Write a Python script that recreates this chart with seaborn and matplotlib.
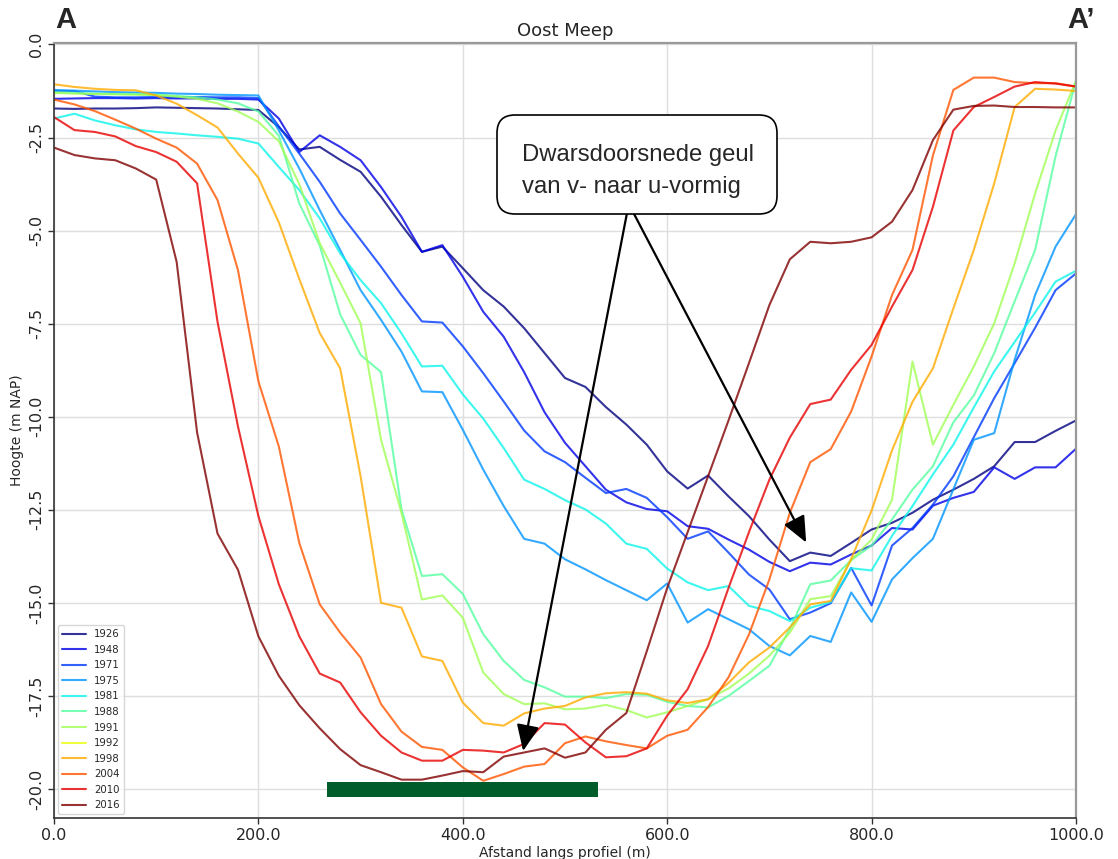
import numpy as np
import pandas as pd
import matplotlib
matplotlib.use("Agg")
import matplotlib.pyplot as plt
import seaborn as sns
from matplotlib.patches import FancyBboxPatch, Rectangle
from matplotlib.transforms import IdentityTransform

# Afstand langs het profiel (m), elke 20 m gemeten
afstand = np.arange(0, 1001, 20)

jaren = ["1926", "1948", "1971", "1975", "1981", "1988",
         "1991", "1992", "1998", "2004", "2010", "2016"]

# Bodemhoogte (m NAP) per peiljaar
h1926 = [-1.72, -1.73, -1.72, -1.72, -1.71, -1.69, -1.70, -1.71, -1.72, -1.74, -1.76,
         -2.22, -2.82, -2.75, -3.10, -3.42, -4.09, -4.85, -5.57, -5.43, -6.01,
         -6.60, -7.04, -7.62, -8.29, -8.96, -9.20, -9.74, -10.21, -10.75, -11.47,
         -11.93, -11.58, -12.14, -12.67, -13.30, -13.88, -13.65, -13.74, -13.39, -13.03,
         -12.85, -12.58, -12.23, -11.96, -11.67, -11.33, -10.68, -10.68, -10.38, -10.10]
h1948 = [-1.46, -1.45, -1.44, -1.44, -1.45, -1.44, -1.45, -1.45, -1.46, -1.46, -1.48,
         -1.99, -2.89, -2.44, -2.75, -3.11, -3.83, -4.63, -5.57, -5.39, -6.24,
         -7.18, -7.85, -8.80, -9.88, -10.70, -11.33, -11.96, -12.30, -12.48, -12.54,
         -12.94, -13.01, -13.30, -13.57, -13.90, -14.15, -13.92, -13.97, -13.70, -13.46,
         -12.99, -13.03, -12.39, -12.18, -12.02, -11.36, -11.67, -11.36, -11.36, -10.86]
h1971 = [-1.25, -1.25, -1.40, -1.42, -1.42, -1.41, -1.42, -1.41, -1.42, -1.42, -1.44,
         -2.20, -2.93, -3.69, -4.54, -5.25, -5.97, -6.73, -7.44, -7.47, -8.11,
         -8.83, -9.59, -10.37, -10.93, -11.22, -11.64, -12.05, -11.94, -12.18, -12.70,
         -13.28, -13.08, -13.65, -14.24, -14.64, -15.44, -15.26, -15.01, -14.06, -15.07,
         -13.46, -12.99, -12.36, -11.60, -10.55, -9.50, -8.56, -7.61, -6.60, -6.15]
h1975 = [-1.22, -1.24, -1.26, -1.28, -1.29, -1.30, -1.32, -1.33, -1.35, -1.36, -1.37,
         -2.31, -3.33, -4.45, -5.52, -6.60, -7.40, -8.25, -9.32, -9.34, -10.35,
         -11.42, -12.40, -13.28, -13.41, -13.83, -14.10, -14.39, -14.66, -14.93, -14.48,
         -15.53, -15.17, -15.44, -15.71, -16.16, -16.41, -15.89, -16.05, -14.72, -15.51,
         -14.37, -13.80, -13.28, -11.95, -10.62, -10.44, -8.47, -6.73, -5.43, -4.56]
h1981 = [-1.99, -1.86, -2.04, -2.17, -2.28, -2.35, -2.39, -2.44, -2.48, -2.53, -2.66,
         -3.29, -3.91, -4.67, -5.61, -6.33, -6.95, -7.76, -8.65, -8.63, -9.40,
         -10.05, -10.84, -11.69, -11.94, -12.24, -12.49, -12.87, -13.41, -13.55, -14.08,
         -14.45, -14.66, -14.55, -15.08, -15.22, -15.49, -15.13, -14.98, -14.07, -14.13,
         -13.20, -12.40, -11.55, -10.75, -9.75, -8.78, -7.99, -7.20, -6.37, -6.08]
h1988 = [-1.28, -1.30, -1.32, -1.33, -1.33, -1.35, -1.38, -1.42, -1.48, -1.58, -1.80,
         -2.45, -4.27, -5.40, -7.25, -8.34, -8.80, -12.49, -14.28, -14.23, -14.76,
         -15.84, -16.56, -17.07, -17.27, -17.52, -17.52, -17.56, -17.45, -17.47, -17.66,
         -17.77, -17.81, -17.50, -17.10, -16.69, -15.70, -14.50, -14.40, -13.85, -13.46,
         -12.76, -11.96, -11.33, -10.15, -9.43, -8.29, -6.90, -5.52, -3.00, -0.98]
h1991 = [-1.30, -1.32, -1.33, -1.34, -1.35, -1.36, -1.40, -1.46, -1.58, -1.80, -2.08,
         -2.60, -3.75, -5.34, -6.40, -7.49, -10.62, -12.58, -14.91, -14.80, -15.40,
         -16.87, -17.45, -17.72, -17.70, -17.86, -17.84, -17.74, -17.88, -18.08, -17.94,
         -17.77, -17.59, -17.30, -16.90, -16.42, -15.80, -14.90, -14.82, -13.85, -13.30,
         -12.23, -8.52, -10.75, -9.68, -8.65, -7.49, -5.88, -4.00, -2.31, -0.97]
h1992 = []  # geen peiling langs dit profiel
h1998 = [-1.07, -1.14, -1.19, -1.22, -1.23, -1.37, -1.59, -1.90, -2.23, -2.93, -3.58,
         -4.78, -6.30, -7.75, -8.70, -11.60, -15.00, -15.13, -16.44, -16.56, -17.68,
         -18.23, -18.30, -17.97, -17.84, -17.77, -17.54, -17.43, -17.40, -17.44, -17.62,
         -17.69, -17.59, -17.15, -16.60, -16.20, -15.66, -15.04, -14.95, -13.82, -12.52,
         -10.90, -9.60, -8.70, -7.09, -5.52, -3.73, -1.68, -1.19, -1.21, -1.25]
h2004 = [-1.48, -1.61, -1.79, -2.02, -2.26, -2.53, -2.77, -3.20, -4.18, -6.06, -9.05,
         -10.80, -13.39, -15.04, -15.80, -16.47, -17.72, -18.46, -18.87, -18.95, -19.42,
         -19.78, -19.60, -19.40, -19.33, -18.77, -18.59, -18.72, -18.82, -18.91, -18.57,
         -18.41, -17.80, -17.00, -15.85, -14.37, -12.58, -11.22, -10.87, -9.86, -8.38,
         -6.73, -5.52, -2.98, -1.22, -0.89, -0.89, -1.01, -1.04, -1.04, -1.13]
h2010 = [-1.95, -2.30, -2.35, -2.47, -2.73, -2.89, -3.15, -3.73, -7.45, -10.26, -12.67,
         -14.50, -15.90, -16.90, -17.14, -17.94, -18.57, -19.02, -19.24, -19.24, -18.95,
         -18.97, -19.02, -18.79, -18.23, -18.27, -18.75, -19.15, -19.12, -18.91, -18.03,
         -17.32, -16.16, -14.60, -13.10, -11.69, -10.56, -9.66, -9.54, -8.74, -8.07,
         -7.04, -6.06, -4.36, -2.31, -1.68, -1.41, -1.13, -1.01, -1.05, -1.13]
h2016 = [-2.77, -2.97, -3.06, -3.11, -3.33, -3.63, -5.84, -10.42, -13.14, -14.11, -15.90,
         -16.96, -17.75, -18.37, -18.93, -19.36, -19.55, -19.75, -19.75, -19.64, -19.52,
         -19.55, -19.13, -19.02, -18.91, -19.16, -19.02, -18.41, -17.96, -16.30, -14.60,
         -13.10, -11.60, -10.10, -8.56, -7.00, -5.77, -5.30, -5.34, -5.30, -5.18,
         -4.76, -3.91, -2.57, -1.75, -1.65, -1.64, -1.68, -1.68, -1.69, -1.69]

hoogtes = [h1926, h1948, h1971, h1975, h1981, h1988,
           h1991, h1992, h1998, h2004, h2010, h2016]

xticks = [0, 200, 400, 600, 800, 1000]
yticks = [0.0, -2.5, -5.0, -7.5, -10.0, -12.5, -15.0, -17.5, -20.0]

# Zone van de geulbodem (m langs profiel) en hoogte van de balk
zone_start, zone_eind = 267, 532
zone_boven, zone_onder = -19.80, -20.22

# Lange tabel voor seaborn
frames = []
for jaar, h in zip(jaren, hoogtes):
    frames.append(pd.DataFrame({"afstand": afstand[:len(h)], "hoogte": h, "jaar": jaar}))
df = pd.concat(frames, ignore_index=True)

sns.set_theme(style="whitegrid")
plt.rcParams["font.family"] = ["DejaVu Sans"]

kleuren = plt.cm.jet(np.linspace(0, 1, len(jaren)))
palet = dict(zip(jaren, [tuple(c) for c in kleuren]))

W, H = 1118, 859
fig = plt.figure(figsize=(W / 100, H / 100), dpi=100)
ax = fig.add_axes([54 / W, (H - 818) / H, 1022 / W, 775 / H])

sns.lineplot(data=df, x="afstand", y="hoogte", hue="jaar", hue_order=jaren,
             palette=palet, alpha=0.8, linewidth=1.5, errorbar=None,
             sort=False, ax=ax)

ax.set_xlim(0, 1000)
ax.set_ylim(-20.78, 0.04)
ax.set_xticks(xticks)
ax.set_xticklabels([f"{v:.1f}" for v in xticks], fontsize=11.5)
ax.set_yticks(yticks)
ax.set_yticklabels([f"{v:.1f}" for v in yticks], fontsize=11.5,
                   rotation=90, va="center")
ax.tick_params(axis="both", which="major", left=True, bottom=True,
               length=4, width=1, color="#333333", pad=3)
ax.grid(True, color="#dedede", linewidth=1)

ax.set_xlabel("Afstand langs profiel (m)", fontsize=10, labelpad=2)
ax.set_ylabel("Hoogte (m NAP)", fontsize=10, labelpad=4)
ax.set_title("Oost Meep", fontsize=13, pad=5)

for kant in ["left", "bottom"]:
    ax.spines[kant].set_color("#333333")
    ax.spines[kant].set_linewidth(1.2)
for kant in ["top", "right"]:
    ax.spines[kant].set_color("#999999")
    ax.spines[kant].set_linewidth(1.6)

# Balk onder de geulbodem
ax.add_patch(Rectangle((zone_start, zone_onder), zone_eind - zone_start,
                       zone_boven - zone_onder, facecolor="#005c2b",
                       edgecolor="none", zorder=4))

sns.move_legend(ax, "lower left", title=None, fontsize=7.3, handlelength=2.4,
                labelspacing=0.55, frameon=True, borderaxespad=0.35)

# Tekstvak met toelichting
tekst_font = ["Liberation Sans", "DejaVu Sans"]
kader = FancyBboxPatch((497, H - 214), 280, 99,
                       boxstyle="round,pad=0,rounding_size=18",
                       transform=IdentityTransform(), facecolor="white",
                       edgecolor="black", linewidth=1.2, zorder=6, clip_on=False)
ax.add_artist(kader)
ax.text(522, H - 155, "Dwarsdoorsnede geul", transform=IdentityTransform(),
        fontsize=17.2, family=tekst_font, ha="left", va="center", zorder=7)
ax.text(522, H - 187, "van v- naar u-vormig", transform=IdentityTransform(),
        fontsize=17.2, family=tekst_font, ha="left", va="center", zorder=7)

pijl = dict(arrowstyle="-|>,head_length=0.8,head_width=0.35", color="black",
            lw=1.6, mutation_scale=20, shrinkA=0, shrinkB=0)
ax.annotate("", xy=(459, -18.98), xytext=(560.5, -4.55), arrowprops=pijl, zorder=5)
ax.annotate("", xy=(736, -13.38), xytext=(567.5, -4.55), arrowprops=pijl, zorder=5)

fig.text(66 / W, 1 - 20 / H, "A", fontsize=21, fontweight="bold",
         family=tekst_font, ha="center", va="center")
fig.text(1081 / W, 1 - 20 / H, "A\u2019", fontsize=21, fontweight="bold",
         family=tekst_font, ha="center", va="center")

fig.savefig("out.png", dpi=100)
